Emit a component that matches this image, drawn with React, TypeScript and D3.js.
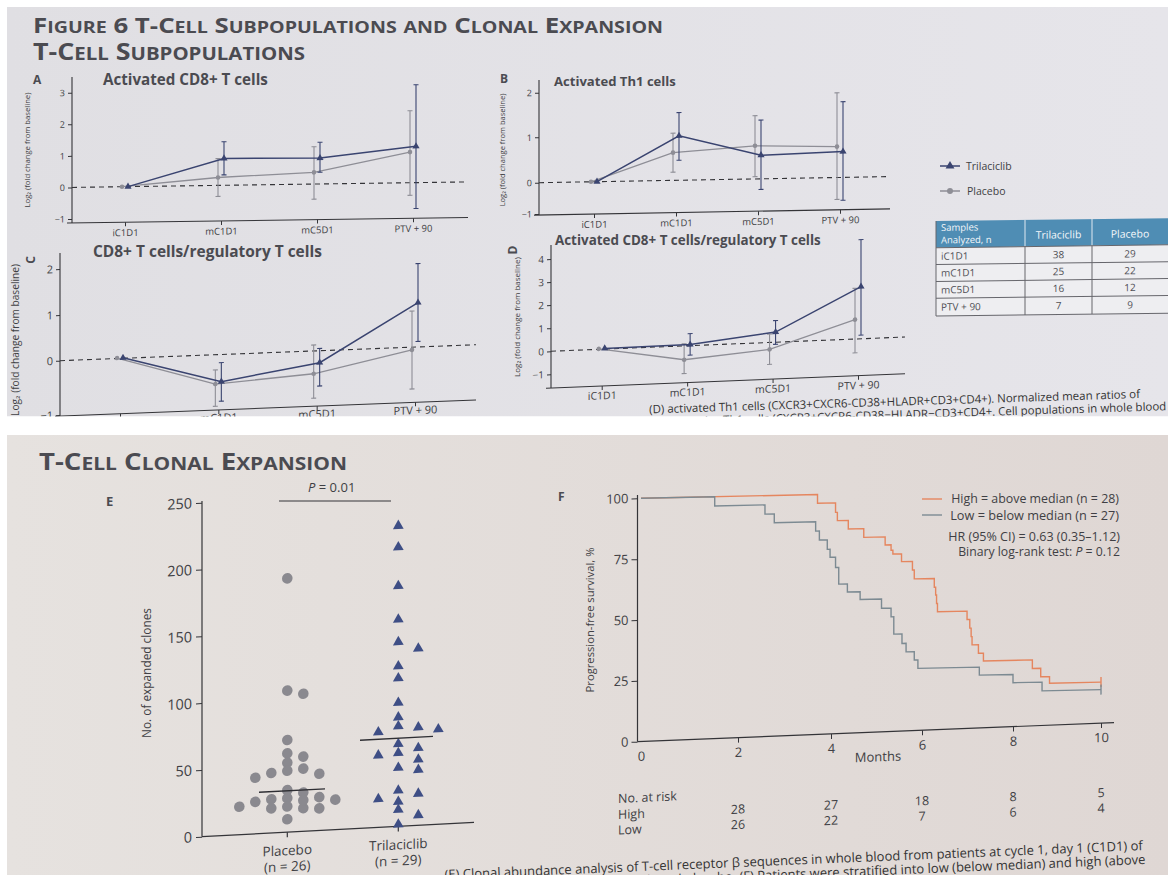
import { useRef, useEffect } from 'react';
import * as d3 from 'd3';

const W = 1168;
const H = 875;
const FONT = '"Open Sans", "Noto Sans", "DejaVu Sans", sans-serif';
const INK = '#343438';
const TEXT = '#3f3f44';
const NAVY = '#3a4470';
const GREY = '#8e8e96';
const ORANGE = '#e5865f';
const SLATE = '#7c8a92';
const HEAD = '#4b4b51';

// ---- Panels A-D: log2 fold change from baseline (mean, error bar low / high) ----
const timepoints = ['iC1D1', 'mC1D1', 'mC5D1', 'PTV + 90'];

const cd8TriMean = [0, 0.85, 0.82, 1.15];
const cd8TriLow = [0, 0.33, 0.37, -0.82];
const cd8TriHigh = [0, 1.38, 1.32, 3.1];
const cd8PboMean = [0, 0.25, 0.37, 0.97];
const cd8PboLow = [0, -0.35, -0.48, -0.4];
const cd8PboHigh = [0, 0.85, 1.18, 2.28];

const th1TriMean = [0, 0.98, 0.52, 0.57];
const th1TriLow = [0, 0.44, -0.34, -0.73];
const th1TriHigh = [0, 1.5, 1.3, 1.68];
const th1PboMean = [0, 0.61, 0.73, 0.68];
const th1PboLow = [0, 0.18, 0.05, -0.7];
const th1PboHigh = [0, 1.04, 1.4, 1.88];

const tregTriMean = [0.01, -0.5, -0.22, 0.97];
const tregTriLow = [0.01, -0.86, -0.65, 0.12];
const tregTriHigh = [0.01, -0.15, 0.05, 1.82];
const tregPboMean = [0.01, -0.54, -0.42, -0.05];
const tregPboLow = [0.01, -0.95, -0.87, -0.77];
const tregPboHigh = [0.01, -0.28, 0.13, 0.79];

const actTregTriMean = [0.03, 0.05, 0.44, 2.26];
const actTregTriLow = [0.03, -0.41, -0.09, 0.16];
const actTregTriHigh = [0.03, 0.52, 0.94, 4.3];
const actTregPboMean = [0.02, -0.6, -0.3, 0.84];
const actTregPboLow = [0.02, -1.2, -0.95, -0.6];
const actTregPboHigh = [0.02, 0.09, 0.36, 2.2];

// samples table
const sampleRows = ['iC1D1', 'mC1D1', 'mC5D1', 'PTV + 90'];
const samplesTri = [38, 25, 16, 7];
const samplesPbo = [29, 22, 12, 9];

// ---- Panel E: number of expanded clones ----
const arms = ['Placebo', 'Trilaciclib'];
const armN = [26, 29];
const clonesPlacebo = [190, 103, 106, 69, 56, 59, 52, 47, 45, 46, 42.5, 42, 31.5, 29, 25.5, 24, 22.5, 25.3, 25, 21, 19.3, 18.5, 16.6, 17.4, 9.7, 23.3];
const clonesTrilaciclib = [225, 209, 180, 155, 138, 132.5, 120, 111, 92.6, 81.7, 75, 71.3, 73.4, 71.2, 61.7, 58, 54, 55, 49.4, 44, 41.6, 27, 21.3, 23.8, 18.5, 12.5, 7.7, 1.5];
const medianPlacebo = 31;
const medianTrilaciclib = 66;

// ---- Panel F: progression-free survival (Kaplan-Meier steps) ----
const highMonths = [0, 3.71, 4.1, 4.14, 4.38, 4.72, 5.19, 5.32, 5.36, 5.55, 5.79, 5.83, 6.27, 6.3, 6.32, 6.34, 6.99, 7.05, 7.08, 7.1, 7.24, 7.35, 8.44, 8.63, 8.83, 10];
const highSurv = [100, 96.4, 92.5, 89.1, 85.6, 82.0, 78.7, 76.5, 74.9, 71.7, 68.2, 64.5, 60.9, 57.7, 54.2, 50.8, 47.4, 43.8, 40.3, 36.9, 33.4, 30.2, 26.7, 23.2, 20.5, 20.5];
const lowMonths = [0, 1.52, 2.58, 2.78, 3.67, 3.75, 3.92, 3.98, 4.1, 4.17, 4.36, 4.64, 5.11, 5.32, 5.38, 5.56, 5.65, 5.83, 5.91, 7.26, 8.0, 8.66, 10];
const lowSurv = [100, 96.2, 92.4, 88.8, 85.0, 81.3, 77.4, 74.1, 69.9, 63.0, 59.7, 56.5, 52.7, 49.1, 42.0, 38.1, 34.6, 31.2, 27.7, 24.4, 21.0, 17.4, 17.4];
const monthTicks = [0, 2, 4, 6, 8, 10];
const pfsTicks = [0, 25, 50, 75, 100];
const riskCols = [2, 4, 6, 8, 10];
const riskHigh = [28, 27, 18, 8, 5];
const riskLow = [26, 22, 7, 6, 4];

const fmt = (d: number) => (d < 0 ? '\u2212' + Math.abs(d) : String(d));
const skewAbout = (x0: number, deg: number) => `translate(${x0},0) skewY(${-deg}) translate(${-x0},0)`;

// scale the font size so the text spans the given width
const fit = (sel: any, width: number) => {
  const len = sel.node().getComputedTextLength();
  if (!len) return sel;
  const k = width / len;
  sel.attr('font-size', parseFloat(sel.attr('font-size')) * k);
  sel.selectAll('tspan').each(function (this: any) {
    const t = d3.select(this);
    if (t.attr('font-size')) t.attr('font-size', parseFloat(t.attr('font-size')) * k);
  });
  return sel;
};

// small-caps heading, squeezed horizontally to the given width
const smallCaps = (g: any, str: string, x: number, y: number, big: number, width: number) => {
  const t = g.append('text').attr('x', x).attr('y', y).attr('font-family', FONT)
    .attr('font-weight', 700).attr('fill', HEAD).attr('font-size', big);
  const runs: { low: boolean; s: string }[] = [];
  for (const ch of str) {
    const low = ch >= 'a' && ch <= 'z';
    const last = runs[runs.length - 1];
    if (last && last.low === low) last.s += ch;
    else runs.push({ low, s: ch });
  }
  runs.forEach((r) => t.append('tspan').attr('font-size', r.low ? big * 0.76 : big).text(r.low ? r.s.toUpperCase() : r.s));
  t.attr('textLength', width).attr('lengthAdjust', 'spacingAndGlyphs');
};

const label = (g: any, str: string, x: number, y: number, size: number, opts: any = {}) =>
  g.append('text').attr('x', x).attr('y', y).attr('font-family', FONT).attr('font-size', size)
    .attr('fill', opts.fill || TEXT).attr('font-weight', opts.weight || 400)
    .attr('text-anchor', opts.anchor || 'start').text(str);

function drawSeries(g: any, x: any, y: any, s: number[][], color: string, marker: string, dx: number) {
  const [mean, low, high] = s;
  const pts = timepoints.map((t, i) => ({ x: x(t) + dx, m: mean[i], lo: low[i], hi: high[i] }));
  g.append('path').datum(pts)
    .attr('d', d3.line<any>().x((d) => d.x).y((d) => y(d.m)))
    .attr('fill', 'none').attr('stroke', color).attr('stroke-width', marker === 'triangle' ? 1.5 : 1.3);
  const eb = g.append('g').attr('stroke', color).attr('stroke-width', 1.1);
  pts.filter((d) => d.hi > d.lo).forEach((d) => {
    eb.append('line').attr('x1', d.x).attr('x2', d.x).attr('y1', y(d.lo)).attr('y2', y(d.hi));
    [d.lo, d.hi].forEach((v) => eb.append('line').attr('x1', d.x - 2.5).attr('x2', d.x + 2.5).attr('y1', y(v)).attr('y2', y(v)));
  });
  if (marker === 'triangle') {
    g.selectAll(null).data(pts).join('path')
      .attr('transform', (d: any) => `translate(${d.x},${y(d.m)})`)
      .attr('d', d3.symbol(d3.symbolTriangle, 22)).attr('fill', color);
  } else {
    g.selectAll(null).data(pts).join('circle')
      .attr('cx', (d: any) => d.x).attr('cy', (d: any) => y(d.m)).attr('r', 2.3).attr('fill', color);
  }
}

function drawLinePanel(root: any, p: any) {
  const y = d3.scaleLinear().domain(p.yDomain).range(p.yRange);
  const x = d3.scalePoint().domain(timepoints).range(p.xRange);
  const g = root.append('g').attr('transform', skewAbout(p.axisX, p.skew));

  g.append('line').attr('x1', p.axisX).attr('x2', p.axisX).attr('y1', p.axisTop).attr('y2', p.axisBottom)
    .attr('stroke', INK).attr('stroke-width', 1.1);
  const ya = g.append('g').attr('transform', `translate(${p.axisX},0)`).attr('color', INK)
    .call(d3.axisLeft(y).tickValues(p.yTicks).tickSize(4).tickPadding(3).tickFormat(fmt as any));
  ya.select('.domain').remove();
  ya.selectAll('text').attr('font-family', FONT).attr('font-size', p.tickFont).attr('fill', TEXT);

  g.append('line').attr('x1', p.axisX - 5).attr('x2', p.xEnd).attr('y1', p.axisBottom).attr('y2', p.axisBottom)
    .attr('stroke', INK).attr('stroke-width', 1.1);
  const xa = g.append('g').attr('transform', `translate(0,${p.axisBottom})`).attr('color', INK)
    .call(d3.axisBottom(x).tickSize(4).tickPadding(p.catPad));
  xa.select('.domain').remove();
  xa.selectAll('text').attr('font-family', FONT).attr('font-size', p.catFont).attr('fill', TEXT);

  g.append('line').attr('x1', p.axisX).attr('x2', p.xEnd).attr('y1', y(0)).attr('y2', y(0))
    .attr('stroke', INK).attr('stroke-width', 1.1).attr('stroke-dasharray', '5,4');

  drawSeries(g, x, y, p.pbo, GREY, 'circle', -3);
  drawSeries(g, x, y, p.tri, NAVY, 'triangle', 3);

  if (p.rotateLetter) {
    root.append('text').attr('transform', `translate(${p.letterX},${p.letterY}) rotate(-90)`)
      .attr('text-anchor', 'middle').attr('font-family', FONT).attr('font-weight', 700)
      .attr('font-size', 12).attr('fill', HEAD).text(p.letter);
  } else {
    label(root, p.letter, p.letterX, p.letterY, 12, { weight: 700, fill: HEAD });
  }
  fit(label(root, p.title, p.titleX, p.titleY, p.titleSize, { weight: 700, fill: HEAD }), p.titleW);
  const yl = root.append('text').attr('transform', `translate(${p.labelX},${p.labelY}) rotate(-90)`)
    .attr('text-anchor', 'middle').attr('font-family', FONT).attr('font-size', p.labelSize)
    .attr('fill', TEXT).text('Log\u2082 (fold change from baseline)');
  fit(yl, p.labelW);
}

const linePanels = [
  {
    letter: 'A', rotateLetter: false, letterX: 33, letterY: 84,
    title: 'Activated CD8+ T cells', titleX: 103, titleY: 85, titleW: 165, titleSize: 11,
    axisX: 72, yDomain: [-1, 3], yRange: [219, 92.7], yTicks: [-1, 0, 1, 2, 3],
    axisTop: 77, axisBottom: 223, xRange: [125, 413], xEnd: 468, skew: 0.8,
    tickFont: 9, catFont: 9.5, catPad: 3, labelX: 30, labelY: 150, labelW: 115, labelSize: 8,
    tri: [cd8TriMean, cd8TriLow, cd8TriHigh], pbo: [cd8PboMean, cd8PboLow, cd8PboHigh],
  },
  {
    letter: 'B', rotateLetter: false, letterX: 500, letterY: 83,
    title: 'Activated Th1 cells', titleX: 554, titleY: 86, titleW: 122, titleSize: 11,
    axisX: 539, yDomain: [-1, 0, 1, 2], yRange: [214, 182.7, 137.3, 92.7], yTicks: [-1, 0, 1, 2],
    axisTop: 80, axisBottom: 215, xRange: [594, 840], xEnd: 890, skew: 1.0,
    tickFont: 9, catFont: 9.5, catPad: 3, labelX: 505, labelY: 150, labelW: 113, labelSize: 8,
    tri: [th1TriMean, th1TriLow, th1TriHigh], pbo: [th1PboMean, th1PboLow, th1PboHigh],
  },
  {
    letter: 'C', rotateLetter: true, letterX: 35, letterY: 260,
    title: 'CD8+ T cells/regulatory T cells', titleX: 93, titleY: 257, titleW: 229, titleSize: 12,
    axisX: 60, yDomain: [-1, 0, 1, 2], yRange: [415, 360.7, 315, 269], yTicks: [-1, 0, 1, 2],
    axisTop: 253, axisBottom: 416, xRange: [120, 415], xEnd: 476, skew: 2.2,
    tickFont: 11, catFont: 11, catPad: 0, labelX: 19, labelY: 340, labelW: 152, labelSize: 10,
    tri: [tregTriMean, tregTriLow, tregTriHigh], pbo: [tregPboMean, tregPboLow, tregPboHigh],
  },
  {
    letter: 'D', rotateLetter: true, letterX: 517, letterY: 250,
    title: 'Activated CD8+ T cells/regulatory T cells', titleX: 555, titleY: 245, titleW: 266, titleSize: 11.5,
    axisX: 551, yDomain: [-1, 4], yRange: [374.3, 259], yTicks: [-1, 0, 1, 2, 3, 4],
    axisTop: 245, axisBottom: 388, xRange: [601.7, 858], xEnd: 905, skew: 2.3,
    tickFont: 10, catFont: 10.5, catPad: 2, labelX: 520, labelY: 317, labelW: 120, labelSize: 8.5,
    tri: [actTregTriMean, actTregTriLow, actTregTriHigh], pbo: [actTregPboMean, actTregPboLow, actTregPboHigh],
  },
];

// greedy beeswarm: columns on a grid of `step`, avoid overlaps
function swarm(values: number[], y: any, cx: number, step: number, minDx: number, minDy: number) {
  const order = d3.range(values.length).sort((a, b) => values[b] - values[a]);
  const placed: { x: number; y: number }[] = [];
  const out: { x: number; y: number }[] = new Array(values.length);
  order.forEach((i) => {
    const py = y(values[i]);
    for (let k = 0; k < 30; k++) {
      const cands = k === 0 ? [0] : [k, -k];
      const hit = cands.find((c) => placed.every((p) => Math.abs(p.x - (cx + c * step)) >= minDx || Math.abs(p.y - py) >= minDy));
      if (hit !== undefined) {
        const pt = { x: cx + hit * step, y: py };
        placed.push(pt);
        out[i] = pt;
        return;
      }
    }
  });
  return out;
}

function draw(svg: any) {
  const defs = svg.append('defs');
  defs.append('clipPath').attr('id', 'clipTop').append('rect').attr('x', 7).attr('y', 7).attr('width', W - 7).attr('height', 409.5);
  defs.append('clipPath').attr('id', 'clipBot').append('rect').attr('x', 7).attr('y', 435).attr('width', W - 7).attr('height', H - 435);
  const gTop = defs.append('linearGradient').attr('id', 'bgTop');
  gTop.append('stop').attr('offset', '0%').attr('stop-color', '#e0dfe3');
  gTop.append('stop').attr('offset', '100%').attr('stop-color', '#e6e5ea');
  const gBot = defs.append('linearGradient').attr('id', 'bgBot');
  gBot.append('stop').attr('offset', '0%').attr('stop-color', '#e6e2df');
  gBot.append('stop').attr('offset', '100%').attr('stop-color', '#dfd7d4');

  svg.append('rect').attr('width', W).attr('height', H).attr('fill', '#fff');

  // ================= top photo: T-cell subpopulations =================
  const top = svg.append('g').attr('clip-path', 'url(#clipTop)');
  top.append('rect').attr('x', 7).attr('y', 7).attr('width', W - 7).attr('height', 409.5).attr('fill', 'url(#bgTop)');
  smallCaps(top, 'Figure 6 T-Cell Subpopulations and Clonal Expansion', 33, 33, 21, 630);
  smallCaps(top, 'T-Cell Subpopulations', 33, 60, 23, 272);

  linePanels.forEach((p) => drawLinePanel(top, p));

  // legend
  const lg = top.append('g');
  lg.append('line').attr('x1', 940).attr('x2', 960).attr('y1', 166).attr('y2', 166).attr('stroke', NAVY).attr('stroke-width', 1.5);
  lg.append('path').attr('transform', 'translate(950,166)').attr('d', d3.symbol(d3.symbolTriangle, 34)).attr('fill', NAVY);
  label(lg, 'Trilaciclib', 966, 169.5, 10.5);
  lg.append('line').attr('x1', 940).attr('x2', 960).attr('y1', 191).attr('y2', 191).attr('stroke', GREY).attr('stroke-width', 1.4);
  lg.append('circle').attr('cx', 950).attr('cy', 191).attr('r', 3).attr('fill', GREY);
  label(lg, 'Placebo', 967, 194.5, 10.5);

  // samples table
  const cols = [936, 1025, 1092, 1172];
  const rowsY = [221, 247.7, 264.6, 281.4, 298.3, 316];
  const tb = top.append('g').attr('transform', skewAbout(936, 0.7));
  tb.append('rect').attr('x', cols[0]).attr('y', rowsY[0]).attr('width', cols[3] - cols[0]).attr('height', rowsY[1] - rowsY[0]).attr('fill', '#4f8db4');
  tb.append('rect').attr('x', cols[0]).attr('y', rowsY[1]).attr('width', cols[3] - cols[0]).attr('height', rowsY[5] - rowsY[1]).attr('fill', '#eeeef1');
  [1, 2].forEach((c) => {
    tb.append('line').attr('x1', cols[c]).attr('x2', cols[c]).attr('y1', rowsY[0]).attr('y2', rowsY[1]).attr('stroke', '#c9dbe7').attr('stroke-width', 1.2);
    tb.append('line').attr('x1', cols[c]).attr('x2', cols[c]).attr('y1', rowsY[1]).attr('y2', rowsY[5]).attr('stroke', '#66666c').attr('stroke-width', 1);
  });
  rowsY.slice(1).forEach((ry) => tb.append('line').attr('x1', cols[0]).attr('x2', cols[3]).attr('y1', ry).attr('y2', ry).attr('stroke', '#66666c').attr('stroke-width', 1));
  tb.append('line').attr('x1', cols[0]).attr('x2', cols[0]).attr('y1', rowsY[0]).attr('y2', rowsY[5]).attr('stroke', '#66666c');
  label(tb, 'Samples', 941, 231, 9.5, { fill: '#f4f7fa' });
  label(tb, 'Analyzed, n', 941, 243.5, 9.5, { fill: '#f4f7fa' });
  label(tb, 'Trilaciclib', (cols[1] + cols[2]) / 2, 240, 10.5, { fill: '#f4f7fa', anchor: 'middle' });
  label(tb, 'Placebo', (cols[2] + 1168) / 2, 240, 10.5, { fill: '#f4f7fa', anchor: 'middle' });
  sampleRows.forEach((r, i) => {
    const base = (rowsY[i + 1] + rowsY[i + 2]) / 2 + 3.6;
    label(tb, r, 941, base, 10, { fill: '#505056' });
    label(tb, String(samplesTri[i]), (cols[1] + cols[2]) / 2, base, 10, { fill: '#505056', anchor: 'middle' });
    label(tb, String(samplesPbo[i]), (cols[2] + 1168) / 2, base, 10, { fill: '#505056', anchor: 'middle' });
  });

  // caption fragment at the bottom of the top photo
  const cap1 = top.append('g').attr('transform', 'rotate(-1.8,1140,398)');
  label(cap1, '(D) activated Th1 cells (CXCR3+CXCR6-CD38+HLADR+CD3+CD4+). Normalized mean ratios of', 1140, 398, 11.5, { anchor: 'end', fill: '#333' });
  label(cap1, 'naive Th1 cells (CXCR3+CXCR6-CD38\u2212HLADR\u2212CD3+CD4+. Cell populations in whole blood', 1166, 411, 11.5, { anchor: 'end', fill: '#333' });

  // ================= bottom photo: clonal expansion =================
  const bot = svg.append('g').attr('clip-path', 'url(#clipBot)');
  bot.append('rect').attr('x', 7).attr('y', 435).attr('width', W - 7).attr('height', H - 435).attr('fill', 'url(#bgBot)');
  smallCaps(bot, 'T-Cell Clonal Expansion', 39, 470, 23, 308);

  // ---- E ----
  const eY = d3.scaleLinear().domain([0, 250]).range([836.7, 502.7]);
  const eX = d3.scalePoint().domain(arms).range([287.3, 398.3]);
  const e0 = 202;
  const eg = bot.append('g').attr('transform', skewAbout(e0, 3));
  eg.append('line').attr('x1', e0).attr('x2', e0).attr('y1', 501).attr('y2', eY(0)).attr('stroke', INK).attr('stroke-width', 1.2);
  const eya = eg.append('g').attr('transform', `translate(${e0},0)`).attr('color', INK)
    .call(d3.axisLeft(eY).tickValues([0, 50, 100, 150, 200, 250]).tickSize(6).tickPadding(4));
  eya.select('.domain').remove();
  eya.selectAll('text').attr('font-family', FONT).attr('font-size', 14.5).attr('fill', TEXT);
  eg.append('line').attr('x1', e0).attr('x2', 474).attr('y1', eY(0)).attr('y2', eY(0)).attr('stroke', INK).attr('stroke-width', 1.2);
  arms.forEach((a, i) => {
    eg.append('line').attr('x1', eX(a)).attr('x2', eX(a)).attr('y1', eY(0)).attr('y2', eY(0) + 5).attr('stroke', INK).attr('stroke-width', 1.2);
    label(eg, a, eX(a)!, eY(0) + 23, 13.5, { anchor: 'middle' });
    label(eg, `(n = ${armN[i]})`, eX(a)!, eY(0) + 39, 13.5, { anchor: 'middle' });
  });
  const pPts = swarm(clonesPlacebo, eY, eX('Placebo')!, 8, 12, 7);
  eg.selectAll(null).data(pPts).join('circle').attr('cx', (d: any) => d.x).attr('cy', (d: any) => d.y)
    .attr('r', 5.3).attr('fill', '#8a898f');
  const tPts = swarm(clonesTrilaciclib, eY, eX('Trilaciclib')!, 10, 15, 8);
  eg.selectAll(null).data(tPts).join('path').attr('transform', (d: any) => `translate(${d.x},${d.y})`)
    .attr('d', d3.symbol(d3.symbolTriangle, 50)).attr('fill', '#3e4e85');
  eg.append('line').attr('x1', 259).attr('x2', 325).attr('y1', eY(medianPlacebo)).attr('y2', eY(medianPlacebo)).attr('stroke', '#2e2e33').attr('stroke-width', 1.4);
  eg.append('line').attr('x1', 360).attr('x2', 433).attr('y1', eY(medianTrilaciclib)).attr('y2', eY(medianTrilaciclib)).attr('stroke', '#2e2e33').attr('stroke-width', 1.4);

  bot.append('line').attr('x1', 279).attr('x2', 391).attr('y1', 501).attr('y2', 501).attr('stroke', INK).attr('stroke-width', 1.2);
  const pt = label(bot, '', 331.7, 492, 13, { anchor: 'middle' });
  pt.append('tspan').attr('font-style', 'italic').text('P');
  pt.append('tspan').text(' = 0.01');
  label(bot, 'E', 106, 506, 13, { weight: 700, fill: HEAD });
  fit(bot.append('text').attr('transform', 'translate(151,673) rotate(-90)').attr('text-anchor', 'middle')
    .attr('font-family', FONT).attr('font-size', 13).attr('fill', TEXT).text('No. of expanded clones'), 130);

  // ---- F ----
  const fX = d3.scaleLinear().domain(monthTicks).range([641, 738, 831, 922, 1013, 1101]);
  const fY = d3.scaleLinear().domain([0, 100]).range([741.7, 498.3]);
  const f0 = 637.5;
  const fg = bot.append('g').attr('transform', skewAbout(f0, 1.2));
  fg.append('line').attr('x1', f0).attr('x2', f0).attr('y1', 495).attr('y2', fY(0)).attr('stroke', INK).attr('stroke-width', 1.2);
  const fya = fg.append('g').attr('transform', `translate(${f0},0)`).attr('color', INK)
    .call(d3.axisLeft(fY).tickValues(pfsTicks).tickSize(6).tickPadding(3));
  fya.select('.domain').remove();
  fya.selectAll('text').attr('font-family', FONT).attr('font-size', 13).attr('fill', TEXT);

  const fxg = bot.append('g').attr('transform', skewAbout(f0, 2.3));
  fxg.append('line').attr('x1', f0).attr('x2', 1114).attr('y1', fY(0)).attr('y2', fY(0)).attr('stroke', INK).attr('stroke-width', 1.2);
  const fxa = fxg.append('g').attr('transform', `translate(0,${fY(0)})`).attr('color', INK)
    .call(d3.axisBottom(fX).tickValues(monthTicks).tickSize(5).tickPadding(5));
  fxa.select('.domain').remove();
  fxa.select('.tick line').remove();
  fxa.selectAll('text').attr('font-family', FONT).attr('font-size', 13).attr('fill', TEXT);
  label(fxg, 'Months', 878, 771, 13, { anchor: 'middle' });

  const km = d3.line<any>().curve(d3.curveStepAfter).x((d) => fX(d[0])).y((d) => fY(d[1]));
  const curves = [
    { m: highMonths, s: highSurv, c: ORANGE },
    { m: lowMonths, s: lowSurv, c: SLATE },
  ];
  curves.forEach((cv) => {
    const pts = cv.m.map((m, i) => [m, cv.s[i]]);
    fg.append('path').datum(pts).attr('d', km).attr('fill', 'none').attr('stroke', cv.c).attr('stroke-width', 1.4);
    const last = pts[pts.length - 1];
    fg.append('line').attr('x1', fX(last[0])).attr('x2', fX(last[0])).attr('y1', fY(last[1]) - 5).attr('y2', fY(last[1]) + 5)
      .attr('stroke', cv.c).attr('stroke-width', 1.4);
  });

  fit(bot.append('text').attr('transform', 'translate(594,620) rotate(-90)').attr('text-anchor', 'middle')
    .attr('font-family', FONT).attr('font-size', 13).attr('fill', TEXT).text('Progression-free survival, %'), 145);
  label(bot, 'F', 558, 501, 12, { weight: 700, fill: HEAD });

  // legend
  bot.append('line').attr('x1', 922).attr('x2', 942).attr('y1', 499).attr('y2', 499).attr('stroke', ORANGE).attr('stroke-width', 1.4);
  bot.append('line').attr('x1', 922).attr('x2', 942).attr('y1', 515).attr('y2', 515).attr('stroke', SLATE).attr('stroke-width', 1.4);
  fit(label(bot, 'High = above median (n = 28)', 1119, 503, 12, { anchor: 'end' }), 168);
  fit(label(bot, 'Low = below median (n = 27)', 1119, 519.5, 12, { anchor: 'end' }), 169);
  fit(label(bot, 'HR (95% CI) = 0.63 (0.35\u20131.12)', 1120, 541, 12, { anchor: 'end' }), 172);
  const bl = label(bot, 'Binary log-rank test: ', 1120, 556, 12, { anchor: 'end' });
  bl.append('tspan').attr('font-style', 'italic').text('P');
  bl.append('tspan').text(' = 0.12');
  fit(bl, 162);

  // number at risk
  const rg = bot.append('g').attr('transform', skewAbout(618, 2.6));
  label(rg, 'No. at risk', 618, 803, 12.5);
  label(rg, 'High', 618, 819, 12.5);
  label(rg, 'Low', 618, 834.5, 12.5);
  riskCols.forEach((m, i) => {
    label(rg, String(riskHigh[i]), fX(m), 819, 12.5, { anchor: 'middle' });
    label(rg, String(riskLow[i]), fX(m), 834.5, 12.5, { anchor: 'middle' });
  });

  // caption fragment
  const cap2 = bot.append('g').attr('transform', 'rotate(-2.4,1143,850)');
  label(cap2, '(E) Clonal abundance analysis of T-cell receptor \u03b2 sequences in whole blood from patients at cycle 1, day 1 (C1D1) of', 1143, 850, 13, { anchor: 'end', fill: '#333' });
  label(cap2, 'trilaciclib and placebo. (F) Patients were stratified into low (below median) and high (above', 1145, 864, 13, { anchor: 'end', fill: '#333' });
}

export default function App() {
  const ref = useRef<SVGSVGElement>(null);
  useEffect(() => {
    const svg = d3.select(ref.current);
    svg.selectAll('*').remove();
    draw(svg);
  }, []);
  return (
    <svg ref={ref} width={W} height={H} style={{ position: 'absolute', left: 0, top: 0, background: '#fff' }} />
  );
}
